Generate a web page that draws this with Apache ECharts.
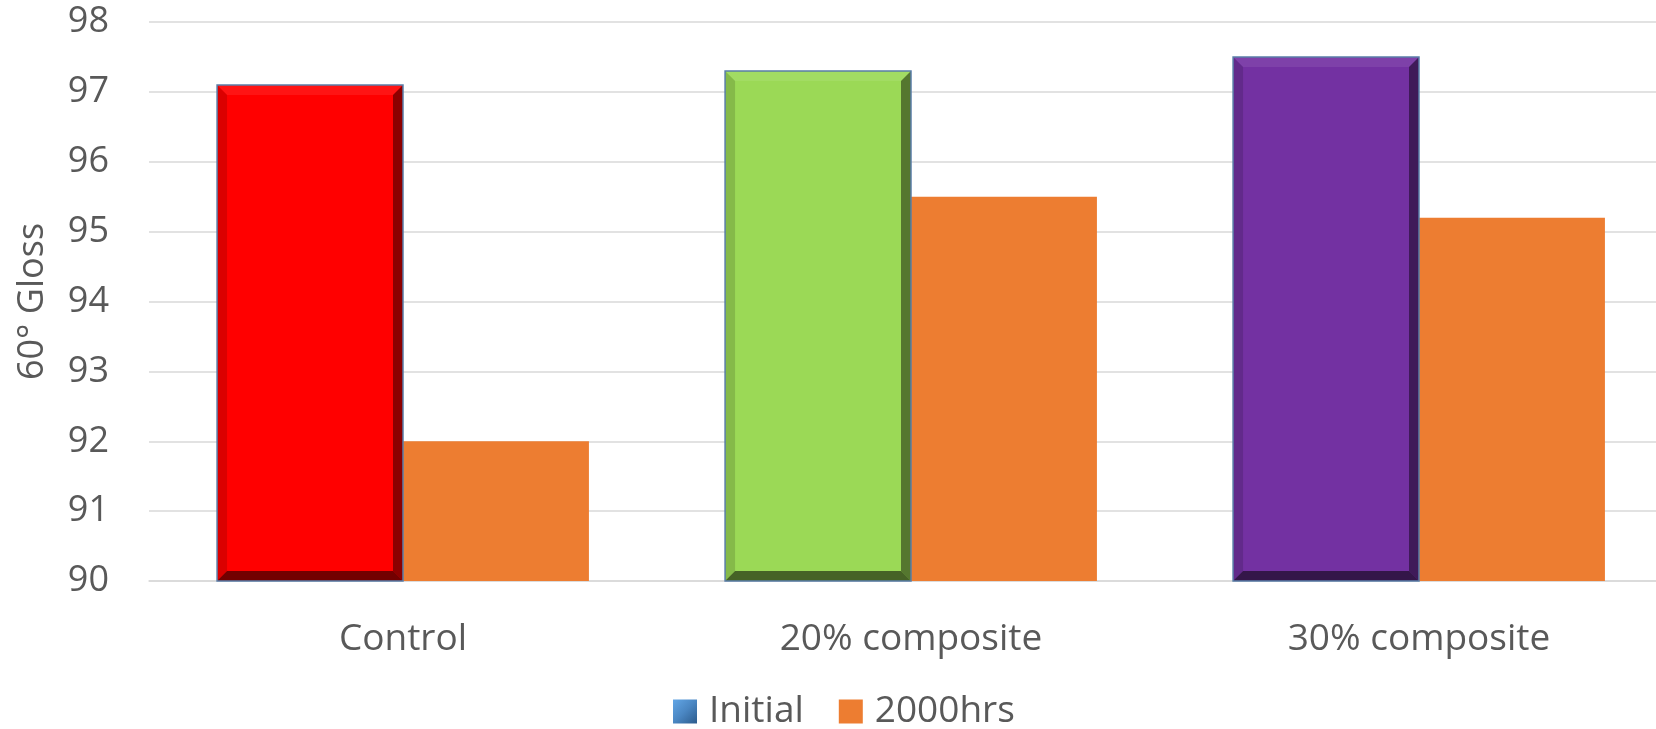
<!DOCTYPE html>
<html>
<head>
<meta charset="utf-8">
<script src="https://cdn.jsdelivr.net/npm/echarts@6/dist/echarts.min.js"></script>
<style>
html,body{margin:0;padding:0;background:#fff;overflow:hidden;}
#chart{width:1673px;height:729px;}
</style>
</head>
<body>
<div id="chart"></div>
<script>
const categories = ['Control', '20% composite', '30% composite'];
const initialValues = [97.1, 97.3, 97.5];
const hrs2000Values = [92.0, 95.5, 95.2];
const initialColors = ['#ff0000', '#9bd956', '#7331a2'];
const seriesNames = ['Initial', '2000hrs'];
const yMin = 90, yMax = 98, yInterval = 1;

const GAP = 0.268;
const chart = echarts.init(document.getElementById('chart'));

function bevelItem(params, api) {
  const idx = api.value(0);
  const val = api.value(1);
  const top = api.coord([idx, val]);
  const base = api.coord([idx, yMin]);
  const band = api.size([1, 0])[0];
  const bw = band * (1 - GAP) / 2;
  const x0 = top[0] - bw, x1 = top[0];
  const y0 = top[1], y1 = base[1];
  const b = 10;
  return {
    type: 'group',
    children: [
      {type: 'polygon', shape: {points: [[x0,y0],[x1,y0],[x1-b,y0+b],[x0+b,y0+b]]}, style: {fill: 'rgba(255,255,255,0.08)'}},
      {type: 'polygon', shape: {points: [[x0,y0],[x0+b,y0+b],[x0+b,y1-b],[x0,y1]]}, style: {fill: 'rgba(0,0,0,0.14)'}},
      {type: 'polygon', shape: {points: [[x1,y0],[x1,y1],[x1-b,y1-b],[x1-b,y0+b]]}, style: {fill: 'rgba(0,0,0,0.45)'}},
      {type: 'polygon', shape: {points: [[x0,y1],[x1,y1],[x1-b,y1-b],[x0+b,y1-b]]}, style: {fill: 'rgba(0,0,0,0.55)'}},
      {type: 'rect', shape: {x: x0, y: y0, width: bw, height: y1 - y0}, style: {fill: 'none', stroke: '#5a7ea8', lineWidth: 1.5}}
    ]
  };
}

const option = {
  backgroundColor: '#fff',
  animation: false,
  textStyle: {fontFamily: 'Open Sans'},
  grid: {left: 149, top: 22, right: 0, bottom: 148, containLabel: false},
  legend: {
    data: seriesNames,
    top: 688,
    left: 668,
    itemWidth: 24,
    itemHeight: 24,
    itemGap: 35,
    icon: 'rect',
    textStyle: {fontFamily: 'Open Sans', fontSize: 37, color: '#595959', padding: [0, 0, 0, 7]}
  },
  xAxis: {
    type: 'category',
    data: categories,
    axisLine: {show: true, lineStyle: {color: '#d9d9d9', width: 1.5}},
    axisTick: {show: false},
    axisLabel: {fontFamily: 'Open Sans', fontSize: 37, color: '#595959', margin: 40}
  },
  yAxis: {
    type: 'value',
    min: yMin, max: yMax, interval: yInterval,
    name: '60° Gloss',
    nameLocation: 'middle',
    nameGap: 98,
    nameTextStyle: {fontFamily: 'Open Sans', fontSize: 36, color: '#595959'},
    axisLine: {show: false},
    axisTick: {show: false},
    splitLine: {lineStyle: {color: '#d9d9d9', width: 1.5}},
    axisLabel: {fontFamily: 'Open Sans', fontSize: 36, color: '#595959', margin: 40}
  },
  series: [
    {
      name: seriesNames[0],
      type: 'bar',
      barGap: '0%',
      barCategoryGap: (GAP * 100) + '%',
      itemStyle: {
        color: new echarts.graphic.LinearGradient(0, 0, 1, 1, [
          {offset: 0, color: '#62a6e6'}, {offset: 0.5, color: '#4a86c2'}, {offset: 1, color: '#2c5b8c'}
        ])
      },
      data: initialValues.map((v, i) => ({value: v, itemStyle: {color: initialColors[i]}}))
    },
    {
      name: seriesNames[1],
      type: 'bar',
      barGap: '0%',
      barCategoryGap: (GAP * 100) + '%',
      itemStyle: {color: '#ed7d31'},
      data: hrs2000Values
    },
    {
      name: 'bevel',
      type: 'custom',
      renderItem: bevelItem,
      silent: true,
      z: 5,
      data: initialValues.map((v, i) => [i, v])
    }
  ]
};
chart.setOption(option);
</script>
</body>
</html>
